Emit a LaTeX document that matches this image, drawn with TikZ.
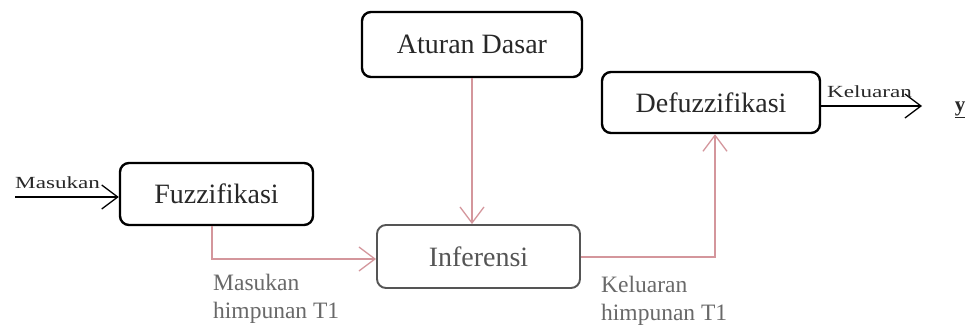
\documentclass[tikz,border=0pt]{standalone}
\usepackage{fontspec}
\setmainfont{Liberation Serif}
\newfontfamily\widefont[FakeStretch=1.36]{Liberation Serif}
\usetikzlibrary{arrows.meta}
\definecolor{rose}{RGB}{212,150,156}
\definecolor{ink}{RGB}{40,40,40}
\definecolor{softink}{RGB}{85,85,85}
\definecolor{labelgray}{RGB}{105,105,105}
\begin{document}
\begin{tikzpicture}[x=1pt,y=-1pt,
  block/.style={draw=black,line width=2.4pt,rounded corners=9pt,fill=white,
    inner sep=0pt,text=ink,font=\fontsize{28}{30}\selectfont},
  softblock/.style={block,draw=softink,line width=1.9pt,text=softink},
  barb/.style={-{Straight Barb[length=16pt,width=24pt,line width=1.3pt]}},
  flow/.style={barb,draw=rose,line width=1.4pt},
  io/.style={barb,draw=black,line width=1.5pt},
  smalllabel/.style={inner sep=0pt,text=ink,font=\widefont\fontsize{17}{18}\selectfont},
  setlabel/.style={inner sep=0pt,text=labelgray,align=left,
    font=\fontsize{23.5}{28}\selectfont}]
\useasboundingbox (0,0) rectangle (973,329);
\fill[white] (0,0) rectangle (973,329);

% processing blocks
\node[block,minimum width=193pt,minimum height=62pt] (fuzz) at (216.5,194) {Fuzzifikasi};
\node[block,minimum width=220pt,minimum height=65pt] (rules) at (472,44.5) {Aturan Dasar};
\node[block,minimum width=218pt,minimum height=61pt] (defuzz) at (711,102.5) {Defuzzifikasi};
\node[softblock,minimum width=203pt,minimum height=63pt] (infer) at (478.5,256.5) {Inferensi};

% free ends of the input and output lines
\coordinate (in) at (15,197);
\coordinate (out) at (922,106);
\node[inner sep=0pt,text=ink,anchor=base,font=\bfseries\fontsize{21}{22}\selectfont] (y) at (960,111) {\underline{y}};

% input and output
\draw[io] (in) -- (in -| fuzz.west);
\node[smalllabel,anchor=base west] (inlabel) at (15,188) {Masukan};
\draw[io] (defuzz.east |- out) -- (out);
\node[smalllabel,anchor=base west] (outlabel) at (827,97) {Keluaran};

% internal flow
\draw[flow] (rules.south) -- (rules.south |- infer.north);
\draw[flow] ([xshift=-4.5pt]fuzz.south) |- ([yshift=-2.5pt]infer.west);
\draw[flow] ([yshift=-0.5pt]infer.east) -| ([xshift=4pt]defuzz.south);

% set labels under the flow (base anchor sits on the last line)
\node[setlabel,anchor=base west] (setin) at (213,318) {Masukan\\himpunan T1};
\node[setlabel,anchor=base west] (setout) at (601,320) {Keluaran\\himpunan T1};
\end{tikzpicture}
\end{document}
